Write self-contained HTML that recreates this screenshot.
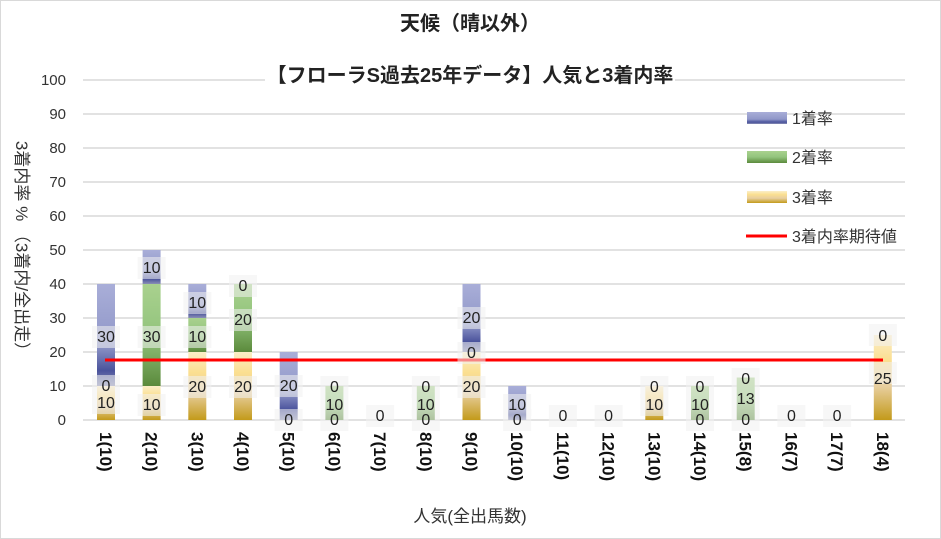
<!DOCTYPE html>
<html><head><meta charset="utf-8"><style>
html,body{margin:0;padding:0;background:#fff}
svg{display:block;font-family:"Liberation Sans","Noto Sans CJK JP",sans-serif}
.t{font-size:16px;fill:#222;text-anchor:middle}
.lb{fill:#f2f2f2;opacity:.55}
.ax{font-size:15px;fill:#333}
</style></head><body>
<svg width="941" height="539" viewBox="0 0 941 539">
<defs>
<linearGradient id="gb" x1="0" y1="0" x2="0" y2="1"><stop offset="0" stop-color="#a9aed8"/><stop offset=".6" stop-color="#9097c8"/><stop offset=".85" stop-color="#4a539c"/><stop offset="1" stop-color="#8a8fb5"/></linearGradient>
<linearGradient id="gg" x1="0" y1="0" x2="0" y2="1"><stop offset="0" stop-color="#a9d18e"/><stop offset=".5" stop-color="#93c47d"/><stop offset="1" stop-color="#5b8a3c"/></linearGradient>
<linearGradient id="gy" x1="0" y1="0" x2="0" y2="1"><stop offset="0" stop-color="#fbeec8"/><stop offset=".3" stop-color="#fbdf90"/><stop offset=".6" stop-color="#e8cfa0"/><stop offset="1" stop-color="#c39a1a"/></linearGradient>
</defs>
<rect x="0.5" y="0.5" width="940" height="538" fill="#fff" stroke="#d9d9d9"/>
<g stroke="#d9d9d9" stroke-width="1.5">
<line x1="83" x2="905" y1="420" y2="420"/><line x1="83" x2="905" y1="386" y2="386"/><line x1="83" x2="905" y1="352" y2="352"/><line x1="83" x2="905" y1="318" y2="318"/><line x1="83" x2="905" y1="284" y2="284"/><line x1="83" x2="905" y1="250" y2="250"/><line x1="83" x2="905" y1="216" y2="216"/><line x1="83" x2="905" y1="182" y2="182"/><line x1="83" x2="905" y1="148" y2="148"/><line x1="83" x2="905" y1="114" y2="114"/><line x1="83" x2="905" y1="80" y2="80"/>
</g>
<rect x="265" y="58" width="410" height="32" fill="#fff"/>
<text x="470" y="30" font-size="20" font-weight="bold" text-anchor="middle" fill="#222">天候（晴以外）</text>
<text x="470" y="82" font-size="20" font-weight="bold" text-anchor="middle" fill="#222">【フローラS過去25年データ】人気と3着内率</text>
<g class="ax" text-anchor="end">
<text x="66" y="425">0</text><text x="66" y="391">10</text><text x="66" y="357">20</text><text x="66" y="323">30</text><text x="66" y="289">40</text><text x="66" y="255">50</text><text x="66" y="221">60</text><text x="66" y="187">70</text><text x="66" y="153">80</text><text x="66" y="119">90</text><text x="66" y="85">100</text>
</g>
<text transform="translate(16,250) rotate(90)" font-size="17" fill="#333" text-anchor="middle">3着内率 %  （3着内/全出走）</text>
<g>
<rect x="97" y="386" width="18" height="34" fill="url(#gy)"/><rect x="97" y="284" width="18" height="102" fill="url(#gb)"/>
<rect x="142.6" y="386" width="18" height="34" fill="url(#gy)"/><rect x="142.6" y="284" width="18" height="102" fill="url(#gg)"/><rect x="142.6" y="250" width="18" height="34" fill="url(#gb)"/>
<rect x="188.3" y="352" width="18" height="68" fill="url(#gy)"/><rect x="188.3" y="318" width="18" height="34" fill="url(#gg)"/><rect x="188.3" y="284" width="18" height="34" fill="url(#gb)"/>
<rect x="234" y="352" width="18" height="68" fill="url(#gy)"/><rect x="234" y="284" width="18" height="68" fill="url(#gg)"/>
<rect x="279.7" y="352" width="18" height="68" fill="url(#gb)"/>
<rect x="325.4" y="386" width="18" height="34" fill="url(#gg)"/>
<rect x="416.8" y="386" width="18" height="34" fill="url(#gg)"/>
<rect x="462.5" y="352" width="18" height="68" fill="url(#gy)"/><rect x="462.5" y="284" width="18" height="68" fill="url(#gb)"/>
<rect x="508.2" y="386" width="18" height="34" fill="url(#gb)"/>
<rect x="645.3" y="386" width="18" height="34" fill="url(#gy)"/>
<rect x="691" y="386" width="18" height="34" fill="url(#gg)"/>
<rect x="736.7" y="377.5" width="18" height="42.5" fill="url(#gg)"/>
<rect x="873.8" y="335" width="18" height="85" fill="url(#gy)"/>
</g>
<line x1="105" x2="883" y1="360" y2="360" stroke="#ff0000" stroke-width="3"/>
<g>
<g class="lb">
<rect x="92" y="392" width="28" height="22"/><rect x="92" y="375" width="28" height="22"/><rect x="92" y="326" width="28" height="22"/>
<rect x="137.6" y="394" width="28" height="22"/><rect x="137.6" y="326" width="28" height="22"/><rect x="137.6" y="257" width="28" height="22"/>
<rect x="183.3" y="376" width="28" height="22"/><rect x="183.3" y="326" width="28" height="22"/><rect x="183.3" y="292" width="28" height="22"/>
<rect x="229" y="376" width="28" height="22"/><rect x="229" y="309" width="28" height="22"/><rect x="229" y="275" width="28" height="22"/>
<rect x="274.7" y="409" width="28" height="22"/><rect x="274.7" y="375" width="28" height="22"/>
<rect x="320.4" y="409" width="28" height="22"/><rect x="320.4" y="394" width="28" height="22"/><rect x="320.4" y="376" width="28" height="22"/>
<rect x="366.1" y="405" width="28" height="22"/>
<rect x="411.8" y="409" width="28" height="22"/><rect x="411.8" y="394" width="28" height="22"/><rect x="411.8" y="376" width="28" height="22"/>
<rect x="457.5" y="376" width="28" height="22"/><rect x="457.5" y="342" width="28" height="22"/><rect x="457.5" y="307" width="28" height="22"/>
<rect x="503.2" y="409" width="28" height="22"/><rect x="503.2" y="394" width="28" height="22"/>
<rect x="548.9" y="405" width="28" height="22"/><rect x="594.6" y="405" width="28" height="22"/>
<rect x="640.3" y="394" width="28" height="22"/><rect x="640.3" y="376" width="28" height="22"/>
<rect x="686" y="409" width="28" height="22"/><rect x="686" y="394" width="28" height="22"/><rect x="686" y="376" width="28" height="22"/>
<rect x="731.7" y="409" width="28" height="22"/><rect x="731.7" y="388" width="28" height="22"/><rect x="731.7" y="368" width="28" height="22"/>
<rect x="777.4" y="405" width="28" height="22"/><rect x="823.1" y="405" width="28" height="22"/>
<rect x="868.8" y="362" width="28" height="22"/><rect x="868.8" y="324" width="28" height="22"/>
</g>
<g class="t">
<text x="106" y="408">10</text><text x="106" y="391">0</text><text x="106" y="342">30</text>
<text x="151.6" y="410">10</text><text x="151.6" y="342">30</text><text x="151.6" y="273">10</text>
<text x="197.3" y="392">20</text><text x="197.3" y="342">10</text><text x="197.3" y="308">10</text>
<text x="243" y="392">20</text><text x="243" y="325">20</text><text x="243" y="291">0</text>
<text x="288.7" y="425">0</text><text x="288.7" y="391">20</text>
<text x="334.4" y="425">0</text><text x="334.4" y="410">10</text><text x="334.4" y="392">0</text>
<text x="380.1" y="421">0</text>
<text x="425.8" y="425">0</text><text x="425.8" y="410">10</text><text x="425.8" y="392">0</text>
<text x="471.5" y="392">20</text><text x="471.5" y="358">0</text><text x="471.5" y="323">20</text>
<text x="517.2" y="425">0</text><text x="517.2" y="410">10</text>
<text x="562.9" y="421">0</text><text x="608.6" y="421">0</text>
<text x="654.3" y="410">10</text><text x="654.3" y="392">0</text>
<text x="700" y="425">0</text><text x="700" y="410">10</text><text x="700" y="392">0</text>
<text x="745.7" y="425">0</text><text x="745.7" y="404">13</text><text x="745.7" y="384">0</text>
<text x="791.4" y="421">0</text><text x="837.1" y="421">0</text>
<text x="882.8" y="384">25</text><text x="882.8" y="341">0</text>
</g>
</g>
<g font-size="17" font-weight="bold" fill="#111">
<text transform="translate(100,432) rotate(90)">1(10)</text>
<text transform="translate(145.6,432) rotate(90)">2(10)</text>
<text transform="translate(191.3,432) rotate(90)">3(10)</text>
<text transform="translate(237,432) rotate(90)">4(10)</text>
<text transform="translate(282.7,432) rotate(90)">5(10)</text>
<text transform="translate(328.4,432) rotate(90)">6(10)</text>
<text transform="translate(374.1,432) rotate(90)">7(10)</text>
<text transform="translate(419.8,432) rotate(90)">8(10)</text>
<text transform="translate(465.5,432) rotate(90)">9(10)</text>
<text transform="translate(511.2,432) rotate(90)">10(10)</text>
<text transform="translate(556.9,432) rotate(90)">11(10)</text>
<text transform="translate(602.6,432) rotate(90)">12(10)</text>
<text transform="translate(648.3,432) rotate(90)">13(10)</text>
<text transform="translate(694,432) rotate(90)">14(10)</text>
<text transform="translate(739.7,432) rotate(90)">15(8)</text>
<text transform="translate(785.4,432) rotate(90)">16(7)</text>
<text transform="translate(831.1,432) rotate(90)">17(7)</text>
<text transform="translate(876.8,432) rotate(90)">18(4)</text>
</g>
<text x="470" y="522" font-size="17" text-anchor="middle" fill="#333">人気(全出馬数)</text>
<g font-size="16" fill="#333">
<rect x="747" y="112" width="40" height="12" fill="url(#gb)"/><text x="792" y="124">1着率</text>
<rect x="747" y="151" width="40" height="12" fill="url(#gg)"/><text x="792" y="163">2着率</text>
<rect x="747" y="191" width="40" height="12" fill="url(#gy)"/><text x="792" y="203">3着率</text>
<line x1="746" x2="787" y1="236" y2="236" stroke="#ff0000" stroke-width="3"/><text x="792" y="242">3着内率期待値</text>
</g>
</svg>
</body></html>
